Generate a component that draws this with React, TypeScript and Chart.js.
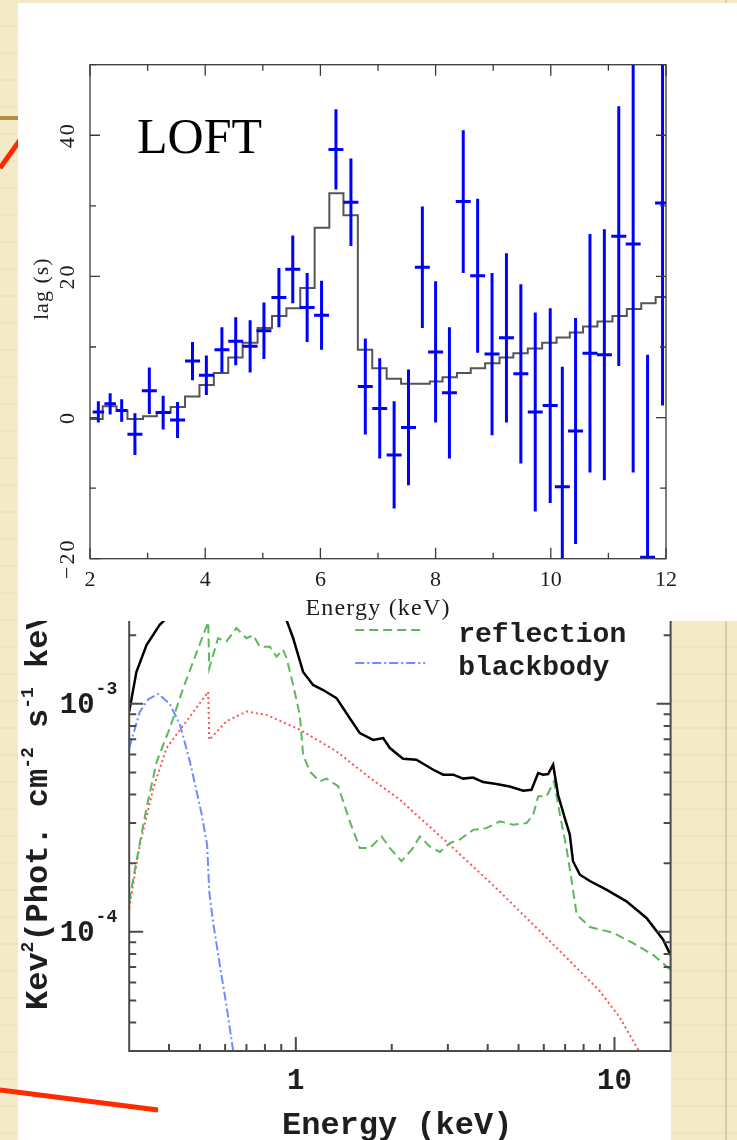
import React, { useEffect, useRef } from 'react';
import { Chart, registerables } from 'chart.js';

Chart.register(...registerables);

// ================= Top panel: LOFT lag-energy spectrum =================
const lagEnergy = [
  2.145, 2.35, 2.55, 2.78, 3.03, 3.27, 3.52, 3.78, 4.02, 4.29, 4.53, 4.78, 5.02, 5.28,
  5.52, 5.77, 6.02, 6.27, 6.53, 6.78, 7.03, 7.28, 7.53, 7.77, 8.0, 8.24, 8.48, 8.73,
  8.98, 9.23, 9.48, 9.73, 9.99, 10.2, 10.43, 10.68, 10.93, 11.18, 11.43, 11.68, 11.94,
];
const lagValue = [
  0.8, 1.95, 1.0, -2.35, 3.8, 0.7, -0.35, 8.0, 6.0, 9.6, 10.8, 10.1, 12.3, 17.0,
  21.0, 15.6, 14.5, 38.0, 30.5, 4.4, 1.3, -5.3, -1.4, 21.3, 9.3, 3.5, 30.6, 20.1,
  9.0, 11.3, 6.2, 0.8, 1.7, -9.8, -1.9, 9.1, 8.9, 25.7, 24.6, -19.8, 30.4,
];
const lagError = [
  1.5, 1.5, 1.6, 2.95, 3.3, 2.4, 2.55, 2.7, 2.8, 3.2, 3.4, 3.7, 4.0, 4.2,
  4.8, 4.9, 4.9, 5.7, 6.2, 6.8, 7.1, 7.6, 8.2, 8.6, 10.0, 9.3, 10.1, 10.9,
  11.5, 12.0, 12.7, 14.1, 13.8, 17.0, 16.0, 16.9, 17.8, 18.4, 32.4, 28.7, 28.7,
];
const lagBinHalfWidth = [
  0.1, 0.1, 0.1, 0.13, 0.13, 0.13, 0.13, 0.13, 0.13, 0.13, 0.13, 0.13, 0.13, 0.13,
  0.13, 0.13, 0.13, 0.13, 0.13, 0.13, 0.13, 0.13, 0.13, 0.13, 0.13, 0.13, 0.13, 0.13,
  0.13, 0.13, 0.13, 0.13, 0.13, 0.13, 0.13, 0.13, 0.13, 0.13, 0.13, 0.13, 0.13,
];
const modelEdges = [
  2.0, 2.22, 2.46, 2.65, 2.92, 3.16, 3.4, 3.65, 3.9, 4.15, 4.4, 4.65, 4.91, 5.16,
  5.41, 5.65, 5.9, 6.155, 6.4, 6.65, 6.9, 7.15, 7.4, 7.9, 8.12, 8.37, 8.61, 8.86,
  9.11, 9.35, 9.6, 9.85, 10.1, 10.33, 10.56, 10.81, 11.07, 11.32, 11.57, 11.82, 12.0,
];
const modelLag = [
  -0.2, 1.6, 1.0, -0.2, 0.2, 0.7, 1.5, 3.0, 4.6, 6.3, 8.5, 10.6, 12.7, 14.4,
  15.5, 18.35, 26.9, 31.8, 28.65, 9.6, 7.0, 5.5, 4.8, 5.1, 5.7, 6.3, 7.0, 7.7,
  8.5, 9.1, 9.8, 10.6, 11.35, 12.06, 12.9, 13.6, 14.4, 15.4, 16.2, 17.1,
];
const lagXTicks = [2, 3, 4, 5, 6, 7, 8, 9, 10, 11, 12];
const lagXLabels = [2, 4, 6, 8, 10, 12];
const lagYTicks = [-20, -10, 0, 10, 20, 30, 40, 50];
const lagYLabels = [-20, 0, 20, 40];

// ================= Bottom panel: spectral model components =================
const totalEnergy = [
  0.3, 0.316, 0.34, 0.374, 0.402, 0.45, 0.53, 0.6, 0.75, 0.85, 0.923, 0.981, 1.054, 1.133,
  1.218, 1.342, 1.477, 1.588, 1.748, 1.88, 1.973, 2.17, 2.39, 2.7, 2.9, 3.12, 3.35, 3.6,
  3.87, 4.26, 4.69, 5.17, 5.49, 5.76, 5.97, 6.19, 6.42, 6.65, 6.98, 7.24, 7.41, 7.79,
  8.37, 9.43, 10.9, 12.6, 14.2, 15.0,
];
const totalFlux = [
  9.25e-4, 1.38e-3, 1.81e-3, 2.22e-3, 2.45e-3, 2.9e-3, 3.6e-3, 3.5e-3, 3.5e-3, 3.1e-3, 2.45e-3, 1.94e-3, 1.38e-3, 1.21e-3,
  1.15e-3, 1.06e-3, 8.65e-4, 7.44e-4, 6.95e-4, 7.08e-4, 6.4e-4, 5.74e-4, 5.69e-4, 5.14e-4, 4.89e-4, 4.89e-4, 4.7e-4, 4.75e-4,
  4.54e-4, 4.45e-4, 4.34e-4, 4.16e-4, 4.2e-4, 4.97e-4, 4.89e-4, 4.92e-4, 5.41e-4, 3.99e-4, 3.16e-4, 2.67e-4, 2.04e-4, 1.78e-4,
  1.67e-4, 1.53e-4, 1.36e-4, 1.15e-4, 9.25e-5, 7.9e-5,
];
const reflectionEnergy = [
  0.3, 0.316, 0.34, 0.366, 0.402, 0.443, 0.476, 0.531, 0.535, 0.57, 0.606, 0.651, 0.7, 0.735,
  0.771, 0.829, 0.87, 0.912, 0.935, 0.981, 1.029, 1.054, 1.106, 1.189, 1.248, 1.358, 1.477, 1.588,
  1.706, 1.858, 1.973, 2.146, 2.33, 2.45, 2.63, 2.83, 3.04, 3.27, 3.6, 3.96, 4.37, 4.81,
  5.3, 5.56, 5.76, 6.12, 6.46, 6.74, 7.07, 7.34, 7.61, 8.37, 9.9, 11.4, 13.25, 15.0,
];
const reflectionFlux = [
  1.36e-4, 2.04e-4, 3.49e-4, 5.58e-4, 7.8e-4, 1.17e-3, 1.53e-3, 2.29e-3, 1.43e-3, 1.94e-3, 1.88e-3, 2.15e-3, 1.94e-3, 2.0e-3,
  1.78e-3, 1.78e-3, 1.61e-3, 1.73e-3, 1.59e-3, 1.21e-3, 8.95e-4, 5.98e-4, 5.05e-4, 4.57e-4, 4.7e-4, 4.35e-4, 3.05e-4, 2.33e-4,
  2.33e-4, 2.62e-4, 2.33e-4, 2.04e-4, 2.33e-4, 2.62e-4, 2.37e-4, 2.24e-4, 2.45e-4, 2.54e-4, 2.8e-4, 2.85e-4, 3.05e-4, 2.95e-4,
  3.0e-4, 3.27e-4, 3.93e-4, 3.93e-4, 4.57e-4, 3.27e-4, 2.33e-4, 1.67e-4, 1.19e-4, 1.05e-4, 9.9e-5, 8.95e-5, 7.9e-5, 6.8e-5,
];
const powerlawEnergy = [
  0.3, 0.324, 0.357, 0.393, 0.454, 0.531, 0.535, 0.606, 0.7, 0.809, 1.03,
  1.34, 1.71, 2.12, 2.45, 3.04, 4.37, 6.27, 8.99, 10.4, 11.85, 12.5,
];
const powerlawFlux = [
  1.27e-4, 2.41e-4, 4.27e-4, 6.4e-4, 8.4e-4, 1.13e-3, 6.95e-4, 8.4e-4, 9.25e-4, 8.95e-4, 7.7e-4,
  6.2e-4, 4.73e-4, 3.8e-4, 3.16e-4, 2.41e-4, 1.5e-4, 9.1e-5, 5.5e-5, 4.2e-5, 3.05e-5, 2.6e-5,
];
const blackbodyEnergy = [
  0.3, 0.324, 0.345, 0.37, 0.402, 0.433, 0.465, 0.506, 0.527, 0.535, 0.55, 0.577, 0.605, 0.636, 0.65,
];
const blackbodyFlux = [
  6.4e-4, 9.25e-4, 1.05e-3, 1.106e-3, 1.0e-3, 8.1e-4, 5.6e-4, 3.3e-4, 2.4e-4, 1.5e-4, 1.1e-4, 7.2e-5, 4.8e-5, 3.0e-5, 2.4e-5,
];
const specXTicks = [0.4, 0.5, 0.6, 0.7, 0.8, 0.9, 1, 2, 3, 4, 5, 6, 7, 8, 9, 10];
const specXLabels = [1, 10];
const specYTicks = [
  4e-5, 5e-5, 6e-5, 7e-5, 8e-5, 9e-5, 1e-4, 2e-4, 3e-4, 4e-4, 5e-4, 6e-4, 7e-4, 8e-4, 9e-4, 1e-3, 2e-3,
];
const specYMajor = [1e-4, 1e-3];
const specYLabelExponents = [-4, -3];
const legendLabels = ['reflection', 'blackbody'];

const SERIF = '"Liberation Serif", "Times New Roman", serif';
const MONO = '"Liberation Mono", "Courier New", monospace';

const pts = (xs: number[], ys: number[]) => xs.map((x, i) => ({ x, y: ys[i] }));

function lagDecor() {
  return {
    id: 'lagDecor',
    afterDatasetsDraw(chart: any) {
      const { ctx, chartArea: a } = chart;
      const xs = chart.scales.x;
      const ys = chart.scales.y;
      ctx.save();
      ctx.setLineDash([]);
      ctx.strokeStyle = '#3a3a3a';
      ctx.lineWidth = 1.3;
      ctx.strokeRect(a.left, a.top, a.right - a.left, a.bottom - a.top);
      ctx.beginPath();
      for (const v of lagXTicks) {
        const p = xs.getPixelForValue(v);
        const len = lagXLabels.includes(v) ? 11 : 6;
        ctx.moveTo(p, a.bottom);
        ctx.lineTo(p, a.bottom - len);
        ctx.moveTo(p, a.top);
        ctx.lineTo(p, a.top + len);
      }
      for (const v of lagYTicks) {
        const p = ys.getPixelForValue(v);
        const len = lagYLabels.includes(v) ? 10 : 6;
        ctx.moveTo(a.left, p);
        ctx.lineTo(a.left + len, p);
        ctx.moveTo(a.right, p);
        ctx.lineTo(a.right - len, p);
      }
      ctx.stroke();

      ctx.fillStyle = '#1c1c1c';
      ctx.font = `22px ${SERIF}`;
      ctx.textAlign = 'center';
      ctx.textBaseline = 'middle';
      for (const v of lagXLabels) {
        ctx.fillText(String(v), xs.getPixelForValue(v), a.bottom + 22);
      }
      ctx.letterSpacing = '2px';
      for (const v of lagYLabels) {
        ctx.save();
        ctx.translate(a.left - 21.5, ys.getPixelForValue(v));
        ctx.rotate(-Math.PI / 2);
        ctx.fillText(v < 0 ? `\u2212${-v}` : String(v), 0, 0);
        ctx.restore();
      }
      ctx.letterSpacing = '1.2px';
      ctx.font = `24px ${SERIF}`;
      ctx.fillText('Energy (keV)', (a.left + a.right) / 2, a.bottom + 50);
      ctx.font = `22px ${SERIF}`;
      ctx.letterSpacing = '1px';
      ctx.save();
      ctx.translate(a.left - 48, a.top + 224);
      ctx.rotate(-Math.PI / 2);
      ctx.fillText('lag (s)', 0, 0);
      ctx.restore();
      ctx.letterSpacing = '0px';

      ctx.fillStyle = '#000';
      ctx.font = `50px ${SERIF}`;
      ctx.textAlign = 'left';
      ctx.textBaseline = 'alphabetic';
      ctx.fillText('LOFT', a.left + 47, a.top + 88.3);
      ctx.restore();
    },
  };
}

function specDecor() {
  return {
    id: 'specDecor',
    afterDatasetsDraw(chart: any) {
      const { ctx, chartArea: a } = chart;
      const xs = chart.scales.x;
      const ys = chart.scales.y;
      ctx.save();
      ctx.setLineDash([]);
      ctx.strokeStyle = '#4a4a4a';
      ctx.lineWidth = 2;
      ctx.strokeRect(a.left, a.top, a.right - a.left, a.bottom - a.top);
      ctx.beginPath();
      for (const v of specXTicks) {
        const p = xs.getPixelForValue(v);
        const len = specXLabels.includes(v) ? 14 : 7;
        ctx.moveTo(p, a.bottom);
        ctx.lineTo(p, a.bottom - len);
        ctx.moveTo(p, a.top);
        ctx.lineTo(p, a.top + len);
      }
      for (const v of specYTicks) {
        const p = ys.getPixelForValue(v);
        const len = specYMajor.includes(v) ? 14 : 7;
        ctx.moveTo(a.left, p);
        ctx.lineTo(a.left + len, p);
        ctx.moveTo(a.right, p);
        ctx.lineTo(a.right - len, p);
      }
      ctx.stroke();

      const ink = '#1e1e1e';
      ctx.fillStyle = ink;
      ctx.textBaseline = 'middle';
      ctx.textAlign = 'center';
      ctx.font = `bold 29px ${MONO}`;
      for (const v of specXLabels) {
        ctx.fillText(String(v), xs.getPixelForValue(v), a.bottom + 31);
      }
      // y labels 10^n
      for (const e of specYLabelExponents) {
        const ty = ys.getPixelForValue(Math.pow(10, e));
        ctx.textAlign = 'right';
        ctx.font = `bold 18px ${MONO}`;
        const sup = String(e);
        ctx.fillText(sup, a.left - 12, ty - 14);
        const w = ctx.measureText(sup).width;
        ctx.font = `bold 29px ${MONO}`;
        ctx.fillText('10', a.left - 13 - w, ty + 2);
      }
      // x title
      ctx.textAlign = 'center';
      ctx.font = `bold 32px ${MONO}`;
      ctx.fillText('Energy (keV)', a.left + 268, a.bottom + 75);
      // y title with superscripts
      const segs: [string, boolean][] = [
        ['Kev', false], ['2', true], ['(Phot. cm', false], ['-2', true], [' s', false],
        ['-1', true], [' keV', false], ['-1', true], [')', false],
      ];
      ctx.save();
      ctx.translate(a.left - 82, a.bottom - 41);
      ctx.rotate(-Math.PI / 2);
      ctx.textAlign = 'left';
      ctx.textBaseline = 'alphabetic';
      let cx = 0;
      for (const [t, sup] of segs) {
        ctx.font = sup ? `bold 18px ${MONO}` : `bold 32px ${MONO}`;
        ctx.fillText(t, cx, sup ? -14 : 0);
        cx += ctx.measureText(t).width;
      }
      ctx.restore();

      // legend (visible part)
      ctx.textAlign = 'left';
      ctx.textBaseline = 'alphabetic';
      ctx.font = `bold 28px ${MONO}`;
      legendLabels.forEach((lab, i) => {
        const ds = chart.data.datasets.find((d: any) => d.label === lab);
        const y = a.top + 35 + i * 33;
        ctx.strokeStyle = ds.borderColor;
        ctx.lineWidth = ds.borderWidth;
        ctx.setLineDash(ds.borderDash || []);
        ctx.beginPath();
        ctx.moveTo(a.left + 226, y);
        ctx.lineTo(a.left + 296, y);
        ctx.stroke();
        ctx.setLineDash([]);
        ctx.fillStyle = ink;
        ctx.fillText(lab, a.left + 329, y + 12);
      });
      ctx.restore();
    },
  };
}

export default function App() {
  const topRef = useRef<HTMLCanvasElement>(null);
  const botRef = useRef<HTMLCanvasElement>(null);

  useEffect(() => {
    const vErr = lagEnergy.flatMap((e, i) => [
      { x: e, y: lagValue[i] - lagError[i] },
      { x: e, y: lagValue[i] + lagError[i] },
      { x: e, y: null as any },
    ]);
    const hBar = lagEnergy.flatMap((e, i) => [
      { x: e - lagBinHalfWidth[i], y: lagValue[i] },
      { x: e + lagBinHalfWidth[i], y: lagValue[i] },
      { x: e, y: null as any },
    ]);
    const modelPts = modelEdges.map((x, i) => ({ x, y: modelLag[Math.min(i, modelLag.length - 1)] }));

    const top = new Chart(topRef.current as HTMLCanvasElement, {
      type: 'line',
      data: {
        datasets: [
          { label: 'lag error', data: vErr, borderColor: '#0000ff', borderWidth: 3, pointRadius: 0, spanGaps: false, borderCapStyle: 'butt', clip: 0 } as any,
          { label: 'lag', data: hBar, borderColor: '#0000ff', borderWidth: 3, pointRadius: 0, spanGaps: false, borderCapStyle: 'butt', clip: 0 } as any,
          { label: 'model', data: modelPts, borderColor: '#555555', borderWidth: 2, pointRadius: 0, stepped: 'before', clip: 0 } as any,
        ],
      },
      options: {
        animation: false,
        responsive: false,
        events: [],
        layout: { padding: { left: 72, top: 61.7, right: 71, bottom: 62.3 } },
        plugins: { legend: { display: false }, tooltip: { enabled: false } },
        scales: {
          x: { type: 'linear', min: 2, max: 12, display: false },
          y: { type: 'linear', min: -20, max: 50, display: false },
        },
      },
      plugins: [lagDecor()],
    } as any);

    const bot = new Chart(botRef.current as HTMLCanvasElement, {
      type: 'line',
      data: {
        datasets: [
          { label: 'total', data: pts(totalEnergy, totalFlux), borderColor: '#000000', borderWidth: 2.5, pointRadius: 0, clip: 0 } as any,
          { label: 'reflection', data: pts(reflectionEnergy, reflectionFlux), borderColor: '#5cb85a', borderWidth: 2, borderDash: [9, 5], pointRadius: 0, clip: 0 } as any,
          { label: 'power law', data: pts(powerlawEnergy, powerlawFlux), borderColor: '#ff5252', borderWidth: 2, borderDash: [2, 3], pointRadius: 0, clip: 0 } as any,
          { label: 'blackbody', data: pts(blackbodyEnergy, blackbodyFlux), borderColor: '#6e8cff', borderWidth: 2, borderDash: [9, 3, 2, 3], pointRadius: 0, clip: 0 } as any,
        ],
      },
      options: {
        animation: false,
        responsive: false,
        events: [],
        layout: { padding: { left: 111.2, top: 35.1, right: 2.4, bottom: 89 } },
        plugins: { legend: { display: false }, tooltip: { enabled: false } },
        scales: {
          x: { type: 'logarithmic', min: 0.3, max: 15, display: false },
          y: { type: 'logarithmic', min: 3e-5, max: 3e-3, display: false },
        },
      },
      plugins: [specDecor()],
    } as any);

    return () => {
      top.destroy();
      bot.destroy();
    };
  }, []);

  const abs = (l: number, t: number, w: number, h: number, extra: any = {}) => ({
    position: 'absolute' as const, left: l, top: t, width: w, height: h, ...extra,
  });

  return (
    <div
      style={abs(0, 0, 737, 1140, {
        overflow: 'hidden',
        backgroundColor: '#F5EAC8',
        backgroundImage:
          'repeating-linear-gradient(to bottom, rgba(0,0,0,0) 0px, rgba(0,0,0,0) 25px, rgba(196,170,110,0.11) 25px, rgba(196,170,110,0.11) 27px)',
      })}
    >
      <div style={abs(725, 0, 2, 1140, { background: 'rgba(185,165,125,0.45)' })} />
      <div style={abs(0, 116, 40, 4, { background: '#B38F3E' })} />
      <svg style={abs(0, 0, 737, 1140)} width={737} height={1140}>
        <line x1={0} y1={168} x2={40} y2={112} stroke="#FF2A00" strokeWidth={5} />
      </svg>
      <div style={abs(18, 560, 653, 580, { background: '#ffffff' })} />
      <canvas ref={botRef} width={655} height={580} style={abs(18, 560, 655, 580)} />
      <svg style={abs(0, 0, 737, 1140)} width={737} height={1140}>
        <line x1={0} y1={1090} x2={158} y2={1110} stroke="#FF2A00" strokeWidth={5} />
      </svg>
      <div style={abs(18, 3, 719, 618, { background: '#ffffff' })}>
        <canvas ref={topRef} width={719} height={618} style={abs(0, 0, 719, 618)} />
      </div>
    </div>
  );
}
